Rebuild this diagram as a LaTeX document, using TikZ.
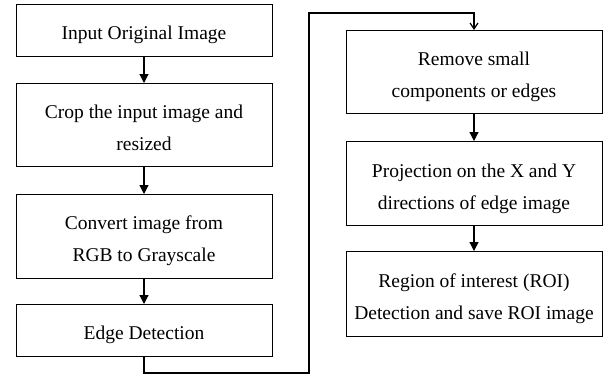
\documentclass[tikz,border=0pt]{standalone}
\usepackage{fontspec}
\setmainfont{Liberation Serif}
\usetikzlibrary{arrows.meta}
\begin{document}
\begin{tikzpicture}[x=1pt,y=-1pt,
  box/.style 2 args={draw, line width=1pt, minimum width=256pt, align=center, inner sep=0pt,
    text height=#1, text depth=#2, font=\fontsize{19.5}{32}\selectfont},
  flow/.style={line width=1.2pt, -{Triangle[length=9pt,width=9pt]}},
  barb/.style={line width=1.2pt, -{Straight Barb[length=6pt,width=8pt,line width=1.2pt]}}]
\useasboundingbox (0,0) rectangle (605,378);
\node[box={35pt}{17pt}, anchor=north] (b1) at (144,4) {Input Original Image};
\node[box={67pt}{16pt}, anchor=north] (b2) at (144,83) {Crop the input image and\\resized};
\node[box={67pt}{17pt}, anchor=north] (b3) at (144,194) {Convert image from\\RGB to Grayscale};
\node[box={35pt}{17pt}, anchor=north] (b4) at (144,304) {Edge Detection};
\node[box={67pt}{16pt}, anchor=north] (b5) at (474,30) {Remove small\\components or edges};
\node[box={68pt}{16pt}, anchor=north] (b6) at (474,141) {Projection on the X and Y\\directions of edge image};
\node[box={68pt}{17pt}, anchor=north] (b7) at (474,251) {Region of interest (ROI)\\Detection and save ROI image};
\draw[flow] (b1) -- (b2);
\draw[flow] (b2) -- (b3);
\draw[flow] (b3) -- (b4);
\coordinate (c1) at (309,373);
\coordinate (c2) at (309,13);
\draw[barb] (b4.south) |- (c1) -- (c2) -| (b5.north);
\draw[flow] (b5) -- (b6);
\draw[flow] (b6) -- (b7);
\end{tikzpicture}
\end{document}
